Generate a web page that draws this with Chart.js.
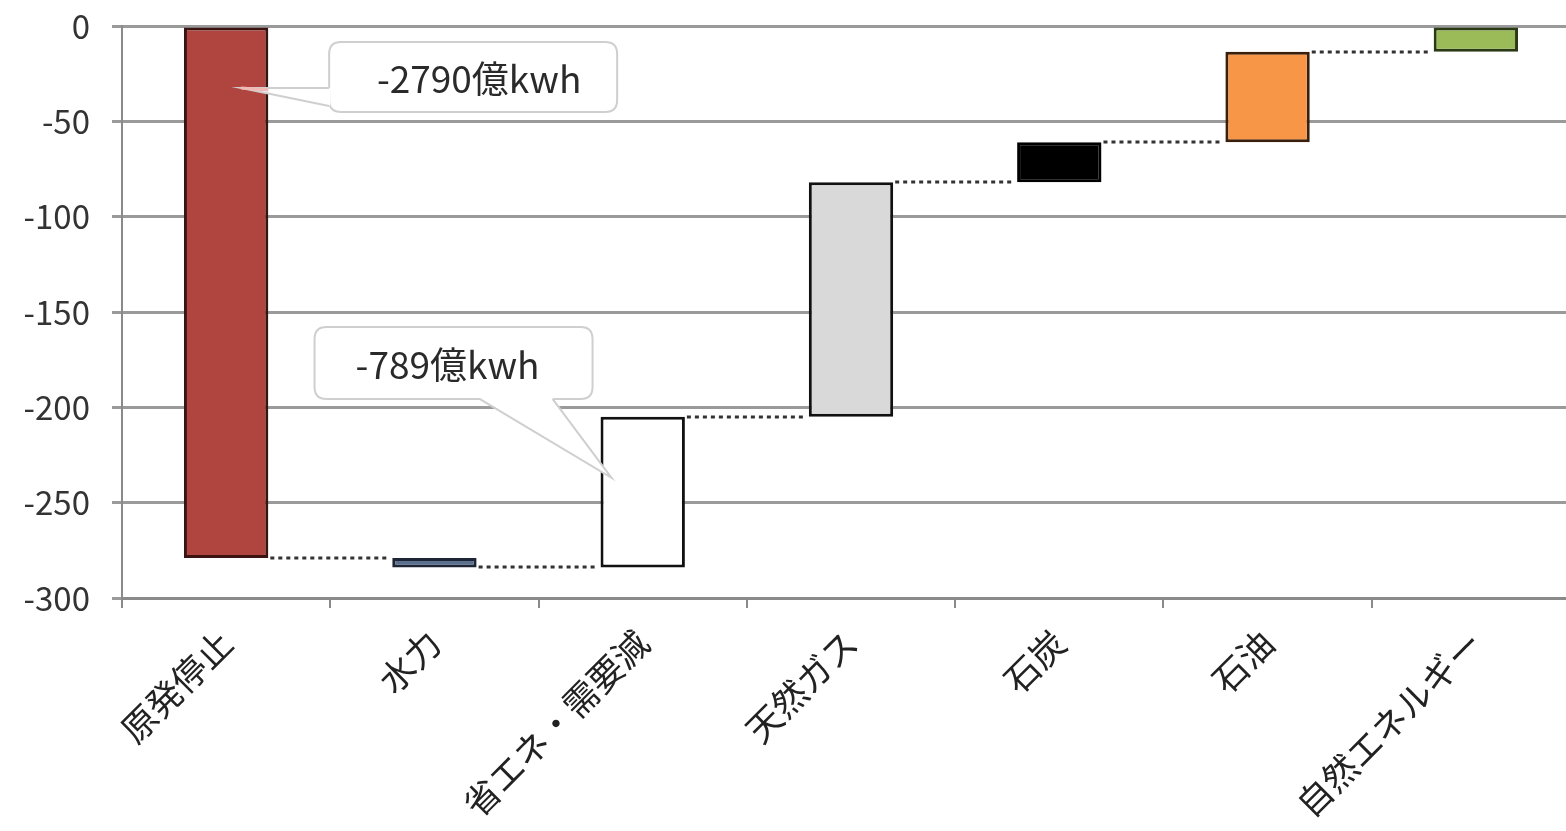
<!DOCTYPE html>
<html>
<head>
<meta charset="utf-8">
<script src="https://cdn.jsdelivr.net/npm/chart.js@4.4.1/dist/chart.umd.min.js"></script>
<style>
  html, body { margin: 0; padding: 0; background: #fff; overflow: hidden; }
  #wrap { width: 1580px; height: 831px; position: relative; }
</style>
</head>
<body>
<div id="wrap"><canvas id="chart"></canvas></div>
<script>
// カテゴリ
const categories = ['原発停止', '水力', '省エネ・需要減', '天然ガス', '石炭', '石油', '自然エネルギー'];
// 各バーの始点と終点 (10億kWh)
const starts = [0, -279, -284, -205, -82, -61, -13.5];
const ends = [-279, -284, -205, -82, -61, -13.5, 0];
// 色
const bg_color = ['#B0443F', '#5B6F8E', '#FFFFFF', '#D9D9D9', '#000000', '#F79646', '#9BBB59'];
const border_color = ['#3B1412', '#1E2636', '#111111', '#111111', '#000000', '#3A200C', '#2A3A14'];
// y軸
const yMin = -300, yMax = 0, yStep = 50;
// 吹き出し
const calloutTexts = ['-2790億kwh', '-789億kwh'];
const calloutIndex = [0, 2];
const calloutTipValue = [-32.5, -237];

const FONT = '"Noto Sans CJK JP", "Noto Sans", sans-serif';

// 棒と棒をつなぐ点線
const connectorPlugin = {
  id: 'connectors',
  afterDatasetsDraw(chart) {
    const ctx = chart.ctx;
    const bars = chart.getDatasetMeta(0).data;
    const y = chart.scales.y;
    ctx.save();
    ctx.strokeStyle = '#333';
    ctx.lineWidth = 3;
    ctx.setLineDash([4, 4]);
    for (let i = 0; i < bars.length - 1; i++) {
      const py = Math.round(y.getPixelForValue(ends[i]));
      ctx.beginPath();
      ctx.moveTo(bars[i].x + bars[i].width / 2 + 2, py);
      ctx.lineTo(bars[i + 1].x - bars[i + 1].width / 2 - 2, py);
      ctx.stroke();
    }
    ctx.restore();
  }
};

function roundRect(ctx, x, y, w, h, r) {
  ctx.beginPath();
  ctx.moveTo(x + r, y);
  ctx.lineTo(x + w - r, y);
  ctx.quadraticCurveTo(x + w, y, x + w, y + r);
  ctx.lineTo(x + w, y + h - r);
  ctx.quadraticCurveTo(x + w, y + h, x + w - r, y + h);
  ctx.lineTo(x + r, y + h);
  ctx.quadraticCurveTo(x, y + h, x, y + h - r);
  ctx.lineTo(x, y + r);
  ctx.quadraticCurveTo(x, y, x + r, y);
  ctx.closePath();
}

// 吹き出し
const calloutPlugin = {
  id: 'callouts',
  afterDatasetsDraw(chart) {
    const ctx = chart.ctx;
    const bars = chart.getDatasetMeta(0).data;
    const y = chart.scales.y;
    // 先端からの箱の位置
    const layout = [
      { dx: 88, dy: -46, w: 288, h: 70, side: 'left' },
      { dx: -297, dy: -151, w: 278, h: 72, side: 'bottom' }
    ];
    ctx.save();
    calloutTexts.forEach((txt, k) => {
      const bar = bars[calloutIndex[k]];
      const tipX = k === 0 ? bar.x + 15 : bar.x - bar.width / 2 + 11;
      const tipY = y.getPixelForValue(calloutTipValue[k]);
      const L = layout[k];
      const bx = tipX + L.dx, by = tipY + L.dy;
      roundRect(ctx, bx, by, L.w, L.h, 12);
      ctx.fillStyle = '#fff';
      ctx.fill();
      ctx.strokeStyle = '#cfcfcf';
      ctx.lineWidth = 2;
      ctx.stroke();
      // くさび
      ctx.beginPath();
      if (L.side === 'left') {
        ctx.moveTo(bx + 1, by + 46);
        ctx.lineTo(tipX, tipY);
        ctx.lineTo(bx + 1, by + 64);
      } else {
        ctx.moveTo(bx + 165, by + L.h - 1);
        ctx.lineTo(tipX, tipY);
        ctx.lineTo(bx + 238, by + L.h - 1);
      }
      ctx.closePath();
      ctx.fillStyle = '#fff';
      ctx.fill();
      ctx.beginPath();
      if (L.side === 'left') {
        ctx.moveTo(bx, by + 46);
        ctx.lineTo(tipX, tipY);
        ctx.lineTo(bx, by + 64);
      } else {
        ctx.moveTo(bx + 165, by + L.h);
        ctx.lineTo(tipX, tipY);
        ctx.lineTo(bx + 238, by + L.h);
      }
      ctx.strokeStyle = '#cfcfcf';
      ctx.stroke();
      if (L.side === 'left') {
        ctx.strokeStyle = '#f2b8b3';
        ctx.lineWidth = 3;
        ctx.beginPath();
        ctx.moveTo(tipX, tipY);
        ctx.lineTo(bar.x + bar.width / 2, tipY + 2);
        ctx.stroke();
      }
      ctx.fillStyle = '#2a2a2a';
      ctx.font = '37px ' + FONT;
      ctx.textAlign = 'center';
      ctx.textBaseline = 'middle';
      ctx.fillText(txt, bx + L.w / 2 + (k === 0 ? 6 : -6), by + L.h / 2 + 2);
    });
    ctx.restore();
  }
};

const data = {
  labels: categories,
  datasets: [{
    data: categories.map((c, i) => [starts[i], ends[i]]),
    backgroundColor: bg_color,
    borderColor: border_color,
    borderWidth: 3,
    borderSkipped: false,
    barPercentage: 0.81,
    categoryPercentage: 0.5
  }]
};

const options = {
  responsive: true,
  maintainAspectRatio: false,
  animation: false,
  layout: { padding: { top: 26, right: 0, left: 0, bottom: 0 } },
  plugins: {
    legend: { display: false },
    tooltip: { enabled: false }
  },
  scales: {
    x: {
      afterFit: (scale) => { scale.height = 233; },
      grid: {
        offset: true,
        drawOnChartArea: false,
        drawTicks: true,
        tickLength: 10,
        color: '#8a8a8a',
        lineWidth: 2
      },
      border: { display: true, color: '#8a8a8a', width: 3 },
      ticks: {
        maxRotation: 45,
        minRotation: 45,
        padding: 14,
        color: '#222',
        font: { family: FONT, size: 35 }
      }
    },
    y: {
      min: yMin,
      max: yMax,
      afterFit: (scale) => { scale.width = 122; scale.paddingTop = 0; },
      grid: {
        color: '#9a9a9a',
        lineWidth: 3,
        tickLength: 10
      },
      border: { display: true, color: '#8a8a8a', width: 2 },
      ticks: {
        stepSize: yStep,
        padding: 22,
        color: '#333',
        font: { family: FONT, size: 33 }
      }
    }
  }
};

const ctx = document.getElementById('chart').getContext('2d');
const myChart = new Chart(ctx, {
  type: 'bar',
  data: data,
  options: options,
  plugins: [connectorPlugin, calloutPlugin]
});
</script>
</body>
</html>
